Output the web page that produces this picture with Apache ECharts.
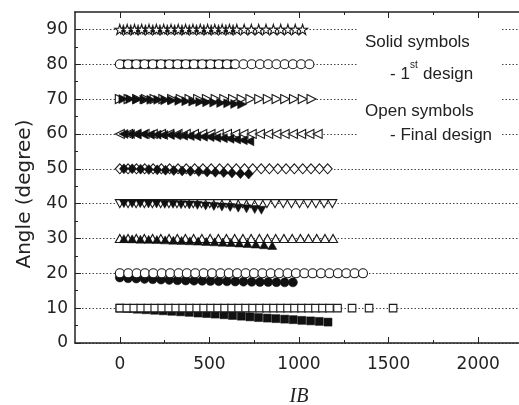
<!DOCTYPE html>
<html>
<head>
<meta charset="utf-8">
<script src="https://cdn.jsdelivr.net/npm/echarts@6/dist/echarts.min.js"></script>
<style>
  html, body { margin: 0; padding: 0; background: #fff; }
  #main { width: 519px; height: 405px; }
</style>
</head>
<body>
<div id="main"></div>
<script>
// tick values
const xMajor = [0, 500, 1000, 1500, 2000];
const xMinor = [250, 750, 1250, 1750];
const yMajor = [0, 10, 20, 30, 40, 50, 60, 70, 80, 90];
const yMinor = [5, 15, 25, 35, 45, 55, 65, 75, 85];

// open symbols (final design) sit on their angle level
const ibOpen90 = [0, 41, 82, 122, 163, 204, 245, 286, 326, 367, 408, 449, 490, 530, 571, 612, 653, 694, 734, 775, 816, 857, 898, 938, 979, 1020];
const ibOpen80 = [0, 46, 92, 138, 184, 230, 276, 322, 368, 414, 460, 506, 552, 598, 644, 690, 736, 782, 828, 874, 920, 966, 1012, 1058];
const ibOpen70 = [0, 49, 97, 146, 194, 243, 292, 340, 389, 437, 486, 535, 583, 632, 680, 729, 778, 826, 875, 923, 972, 1021, 1070];
const ibOpen60 = [0, 46, 92, 138, 184, 230, 276, 322, 368, 414, 460, 506, 552, 598, 644, 690, 736, 782, 828, 874, 920, 966, 1012, 1058, 1104];
const ibOpen50 = [0, 46, 93, 139, 186, 232, 278, 325, 371, 418, 464, 510, 557, 603, 650, 696, 742, 789, 835, 882, 928, 974, 1021, 1067, 1114, 1160];
const ibOpen40 = [0, 46, 91, 137, 182, 228, 274, 319, 365, 410, 456, 502, 547, 593, 638, 684, 730, 775, 821, 866, 912, 958, 1003, 1049, 1094, 1140, 1186];
const ibOpen30 = [0, 46, 92, 137, 183, 229, 275, 321, 366, 412, 458, 504, 550, 595, 641, 687, 733, 779, 824, 870, 916, 962, 1008, 1053, 1099, 1145, 1190];
const ibOpen20 = [0, 47, 94, 140, 187, 234, 281, 328, 374, 421, 468, 515, 562, 608, 655, 702, 749, 796, 842, 889, 936, 983, 1030, 1076, 1123, 1170, 1217, 1264, 1310, 1357];
const ibOpen10 = [0, 39, 78, 117, 156, 195, 234, 273, 312, 351, 390, 429, 468, 507, 546, 585, 624, 663, 702, 741, 780, 819, 858, 897, 936, 975, 1014, 1053, 1092, 1131, 1170, 1215, 1296, 1391, 1525];

// solid symbols (1st design)
const ibSolid90 = [20, 61, 102, 143, 184, 224, 265, 306, 347, 388, 428, 469, 510, 551, 592, 632];
const angSolid90 = [90, 90, 90, 90, 90, 90, 90, 90, 90, 90, 90, 90, 90, 90, 90, 90];
const ibSolid80 = [23, 69, 115, 161, 207, 253, 299, 345, 391, 437, 483, 529, 575, 621];
const angSolid80 = [80, 80, 80, 80, 80, 80, 80, 80, 80, 80, 80, 80, 80, 80];
const ibSolid70 = [20, 59, 98, 137, 176, 215, 254, 293, 332, 371, 410, 449, 488, 527, 566, 605, 644, 683];
const angSolid70 = [70.0, 70.0, 69.9, 69.9, 69.8, 69.8, 69.7, 69.6, 69.5, 69.4, 69.3, 69.2, 69.1, 69.0, 68.9, 68.8, 68.6, 68.5];
const ibSolid60 = [20, 57, 94, 131, 168, 205, 242, 279, 316, 353, 390, 427, 464, 501, 538, 575, 612, 649, 686, 723];
const angSolid60 = [60.0, 60.0, 59.9, 59.9, 59.8, 59.8, 59.7, 59.7, 59.6, 59.5, 59.4, 59.3, 59.2, 59.1, 58.9, 58.8, 58.6, 58.4, 58.2, 57.9];
const ibSolid50 = [23, 69, 116, 162, 209, 255, 301, 348, 394, 441, 487, 533, 580, 626, 673, 719];
const angSolid50 = [50.0, 50.0, 49.9, 49.8, 49.7, 49.6, 49.5, 49.4, 49.3, 49.2, 49.1, 49.0, 48.9, 48.8, 48.6, 48.5];
const ibSolid40 = [23, 69, 114, 160, 205, 251, 297, 342, 388, 433, 479, 525, 570, 616, 661, 707, 753, 790];
const angSolid40 = [40.0, 40.0, 40.0, 39.9, 39.9, 39.8, 39.8, 39.7, 39.6, 39.5, 39.3, 39.2, 39.0, 38.9, 38.7, 38.5, 38.3, 38.1];
const ibSolid30 = [23, 69, 115, 161, 207, 253, 299, 345, 391, 437, 483, 529, 575, 621, 667, 713, 759, 805, 851];
const angSolid30 = [29.95, 29.9, 29.8, 29.75, 29.7, 29.6, 29.5, 29.45, 29.35, 29.25, 29.15, 29.05, 28.95, 28.85, 28.7, 28.55, 28.4, 28.2, 28.0];
const ibSolid20 = [0, 46, 92, 138, 184, 230, 276, 322, 368, 414, 460, 506, 552, 598, 644, 690, 736, 782, 828, 874, 920, 966];
const angSolid20 = [18.8, 18.6, 18.5, 18.4, 18.3, 18.2, 18.1, 18.0, 17.95, 17.9, 17.85, 17.8, 17.75, 17.7, 17.65, 17.6, 17.55, 17.5, 17.5, 17.45, 17.4, 17.4];
const ibSolid10 = [0, 48, 97, 145, 194, 242, 290, 339, 387, 436, 484, 532, 581, 629, 678, 726, 774, 823, 871, 920, 968, 1016, 1065, 1113, 1162];
const angSolid10 = [10.0, 9.9, 9.7, 9.55, 9.4, 9.25, 9.1, 8.95, 8.8, 8.6, 8.45, 8.3, 8.1, 7.9, 7.7, 7.5, 7.3, 7.15, 7.0, 6.85, 6.7, 6.5, 6.35, 6.2, 6.0];

const STAR = 'path://M50,0L61,35L98,35L68,57L79,91L50,70L21,91L32,57L2,35L39,35Z';
const RIGHT = 'path://M0,0L10,5L0,10Z';
const LEFT = 'path://M10,0L0,5L10,10Z';
const DOWN = 'path://M0,0L10,0L5,10Z';

const openStyle = { color: '#fff', borderColor: '#1a1a1a', borderWidth: 1.1, opacity: 1 };
const solidStyle = { color: '#111', borderColor: '#111', borderWidth: 0.5, opacity: 1 };

function pts(ib, ang) {
  return ib.map((v, i) => [v, Array.isArray(ang) ? ang[i] : ang]);
}

function mk(name, data, symbol, size, open) {
  return {
    name: name,
    type: 'scatter',
    xAxisIndex: 0,
    yAxisIndex: 0,
    data: data,
    symbol: symbol,
    symbolSize: size,
    itemStyle: open ? openStyle : solidStyle,
    emphasis: { disabled: true },
    silent: true
  };
}

// draw order per row: later entries are on top
const series = [
  mk('s90', pts(ibSolid90, angSolid90), STAR, 10, false),
  mk('o90', pts(ibOpen90, 90), STAR, 10, true),
  mk('s80', pts(ibSolid80, angSolid80), 'circle', 9, false),
  mk('o80', pts(ibOpen80, 80), 'circle', 9, true),
  mk('o70', pts(ibOpen70, 70), RIGHT, [9, 9], true),
  mk('s70', pts(ibSolid70, angSolid70), RIGHT, [9, 9], false),
  mk('o60', pts(ibOpen60, 60), LEFT, [9, 9], true),
  mk('s60', pts(ibSolid60, angSolid60), LEFT, [9, 9], false),
  mk('o50', pts(ibOpen50, 50), 'diamond', [9, 10], true),
  mk('s50', pts(ibSolid50, angSolid50), 'diamond', [9, 10], false),
  mk('o40', pts(ibOpen40, 40), DOWN, [9, 8], true),
  mk('s40', pts(ibSolid40, angSolid40), DOWN, [9, 8], false),
  mk('o30', pts(ibOpen30, 30), 'triangle', [9, 8], true),
  mk('s30', pts(ibSolid30, angSolid30), 'triangle', [9, 8], false),
  mk('s20', pts(ibSolid20, angSolid20), 'circle', 9, false),
  mk('o20', pts(ibOpen20, 20), 'circle', 9, true),
  mk('s10', pts(ibSolid10, angSolid10), 'rect', 8, false),
  mk('o10', pts(ibOpen10, 10), 'rect', 7.5, true)
];

const AX = '#222';
const gridBox = { left: 75, top: 12, right: -4, bottom: 62, containLabel: false, outerBoundsMode: 'none' };
const labelFont = { fontFamily: 'DejaVu Sans', fontSize: 17, color: '#222' };

function xAx(grid, pos, ticks, len, showLine, labels) {
  return {
    type: 'value', gridIndex: grid, position: pos, min: -250, max: 2250,
    axisLine: { show: showLine, onZero: false, lineStyle: { color: AX, width: 1.5 } },
    axisTick: { show: true, inside: true, length: len, customValues: ticks, lineStyle: { color: AX, width: 1 } },
    axisLabel: labels
      ? Object.assign({ show: true, margin: 13, customValues: ticks, formatter: (v) => String(v) }, labelFont)
      : { show: false },
    splitLine: { show: false }
  };
}

function yAx(grid, pos, ticks, len, showLine, labels, split) {
  return {
    type: 'value', gridIndex: grid, position: pos, min: 0, max: 95, interval: 10,
    axisLine: { show: showLine, onZero: false, lineStyle: { color: AX, width: 1.5 } },
    axisTick: { show: true, inside: true, length: len, customValues: ticks, lineStyle: { color: AX, width: 1 } },
    axisLabel: labels ? Object.assign({ show: true, margin: 7, customValues: ticks }, labelFont) : { show: false },
    splitLine: split ? { show: true, lineStyle: { color: '#444', width: 1, type: [1.5, 2] } } : { show: false }
  };
}

const chart = echarts.init(document.getElementById('main'), null, { renderer: 'canvas' });

const xName = {
  name: 'IB', nameLocation: 'middle', nameGap: 44,
  nameTextStyle: { fontFamily: 'Liberation Serif', fontStyle: 'italic', fontSize: 20, color: '#222' }
};

chart.setOption({
  animation: false,
  backgroundColor: '#fff',
  grid: [gridBox, gridBox],
  xAxis: [
    Object.assign(xAx(0, 'bottom', xMajor, 6, true, true), xName),
    xAx(0, 'top', xMajor, 6, true, false),
    xAx(1, 'bottom', xMinor, 3, false, false),
    xAx(1, 'top', xMinor, 3, false, false)
  ],
  yAxis: [
    yAx(0, 'left', yMajor, 6, true, true, true),
    yAx(1, 'left', yMinor, 3, false, false, false)
  ],
  graphic: [
    {
      type: 'text', x: 25, y: 194, rotation: Math.PI / 2, z: 10,
      style: { text: 'Angle (degree)', font: '20px "DejaVu Sans"', fill: '#222', align: 'center', verticalAlign: 'middle' }
    },
    { type: 'rect', shape: { x: 358, y: 20, width: 142, height: 126 }, style: { fill: '#fff' }, z: 5 },
    { type: 'text', x: 365, y: 42, z: 6, style: { text: 'Solid symbols', font: '17px "Liberation Sans"', fill: '#222', verticalAlign: 'middle' } },
    { type: 'text', x: 390, y: 74, z: 6, style: { text: '- 1', font: '17px "Liberation Sans"', fill: '#222', verticalAlign: 'middle' } },
    { type: 'text', x: 410, y: 65, z: 6, style: { text: 'st', font: '10px "Liberation Sans"', fill: '#222', verticalAlign: 'middle' } },
    { type: 'text', x: 423, y: 74, z: 6, style: { text: 'design', font: '17px "Liberation Sans"', fill: '#222', verticalAlign: 'middle' } },
    { type: 'text', x: 365, y: 111, z: 6, style: { text: 'Open symbols', font: '17px "Liberation Sans"', fill: '#222', verticalAlign: 'middle' } },
    { type: 'text', x: 390, y: 135, z: 6, style: { text: '- Final design', font: '17px "Liberation Sans"', fill: '#222', verticalAlign: 'middle' } }
  ],
  series: series
});
</script>
</body>
</html>
